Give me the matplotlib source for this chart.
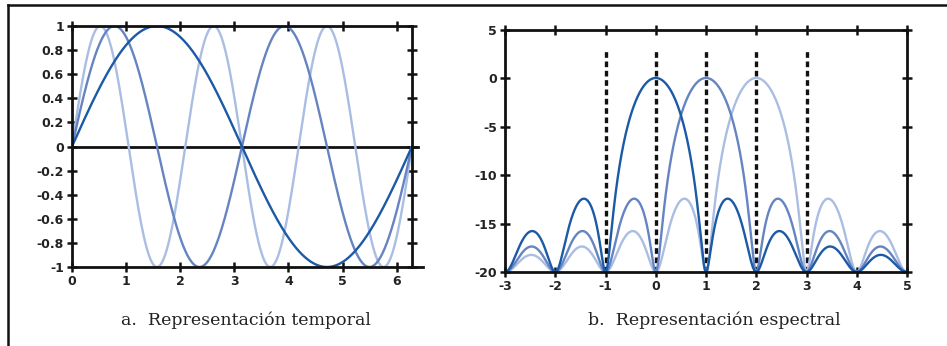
import numpy as np
import matplotlib
matplotlib.use("Agg")
import matplotlib.pyplot as plt
from matplotlib.lines import Line2D
import matplotlib.transforms as mtransforms

plt.rcParams['axes.unicode_minus'] = False

# ---- data ----
# left panel: sinusoids over one period [0, 2*pi]; harmonic numbers of the three curves
time_freqs = [1, 2, 3]
time_xmax = 2 * np.pi
time_xticks = [0, 1, 2, 3, 4, 5, 6]
time_yticks = [-1, -0.8, -0.6, -0.4, -0.2, 0, 0.2, 0.4, 0.6, 0.8, 1]
time_ylabels = ['-1', '-0.8', '-0.6', '-0.4', '-0.2', '0', '0.2', '0.4', '0.6', '0.8', '1']

# right panel: spectra (dB) of the three sinusoids, main lobe centres and noise floor
spec_centers = [0, 1, 2]
spec_floor = 0.01          # power floor -> -20 dB at the nulls
spec_xticks = [-3, -2, -1, 0, 1, 2, 3, 4, 5]
spec_yticks = [-20, -15, -10, -5, 0, 5]
spec_dashed_x = [-1, 0, 1, 2, 3]
spec_dashed_top = 3

caption_left = 'a.  Representación temporal'
caption_right = 'b.  Representación espectral'

colors = ['#1c5aa5', '#6684c2', '#aabde3']   # dark, medium, light

# ---- figure ----
fig = plt.figure(figsize=(9.47, 3.46), dpi=100)
fig.patch.set_facecolor('white')

tickfont = dict(family='DejaVu Sans', weight='bold', size=9)

def style_axes(ax):
    for s in ax.spines.values():
        s.set_linewidth(2.0)
        s.set_color('#111111')
    ax.tick_params(direction='inout', length=6.5, width=1.8, color='#111111',
                   top=True, right=True, pad=2.5)
    for lab in ax.get_xticklabels() + ax.get_yticklabels():
        lab.set_fontfamily(tickfont['family'])
        lab.set_fontweight(tickfont['weight'])
        lab.set_fontsize(tickfont['size'])
        lab.set_color('#222222')

# left panel
ax1 = fig.add_axes([0.0760, 0.2283, 0.3590, 0.6965])
t = np.linspace(0, time_xmax, 800)
for f, c in reversed(list(zip(time_freqs, colors))):
    ax1.plot(t, np.sin(f * t), color=c, lw=1.7, solid_capstyle='round')
ax1.set_xlim(0, time_xmax)
ax1.set_ylim(-1, 1)
ax1.set_xticks(time_xticks)
ax1.set_xticklabels([str(v) for v in time_xticks])
ax1.set_yticks(time_yticks)
ax1.set_yticklabels(time_ylabels)
trans1 = mtransforms.blended_transform_factory(ax1.transAxes, ax1.transData)
ax1.plot([0, 1.018], [0, 0], color='#111111', lw=2.0, transform=trans1, clip_on=False, zorder=1)
ax1.plot([1, 1.032], [-1, -1], color='#111111', lw=2.0, transform=trans1, clip_on=False, zorder=1)
style_axes(ax1)

# right panel
ax2 = fig.add_axes([0.5333, 0.2139, 0.4245, 0.6994])
xf = np.linspace(-3, 5, 2001)
for xd in spec_dashed_x:
    ax2.plot([xd, xd], [-20, spec_dashed_top], color='#111111', lw=2.4,
             dashes=[1.7, 1.1], zorder=1)
for cen, c in reversed(list(zip(spec_centers, colors))):
    y = 10 * np.log10(np.sinc(xf - cen) ** 2 + spec_floor)
    ax2.plot(xf, y, color=c, lw=1.7, zorder=2)
ax2.set_xlim(-3, 5)
ax2.set_ylim(-20, 5)
ax2.set_xticks(spec_xticks)
ax2.set_xticklabels([str(v) for v in spec_xticks])
ax2.set_yticks(spec_yticks)
ax2.set_yticklabels([str(v) for v in spec_yticks])
style_axes(ax2)

# captions
capfont = dict(family='DejaVu Serif', size=12.5, color='#222222', ha='center', va='center')
fig.text(246 / 947, 1 - 320 / 346, caption_left, **capfont)
fig.text(714 / 947, 1 - 320 / 346, caption_right, **capfont)

# outer frame (top and left rules)
fig.add_artist(Line2D([8 / 947, 1.0], [1 - 4.5 / 346, 1 - 4.5 / 346],
                      transform=fig.transFigure, color='#111111', lw=1.8))
fig.add_artist(Line2D([8 / 947, 8 / 947], [0, 1 - 4.5 / 346],
                      transform=fig.transFigure, color='#111111', lw=1.8))

fig.savefig('out.png', dpi=100, facecolor='white')
